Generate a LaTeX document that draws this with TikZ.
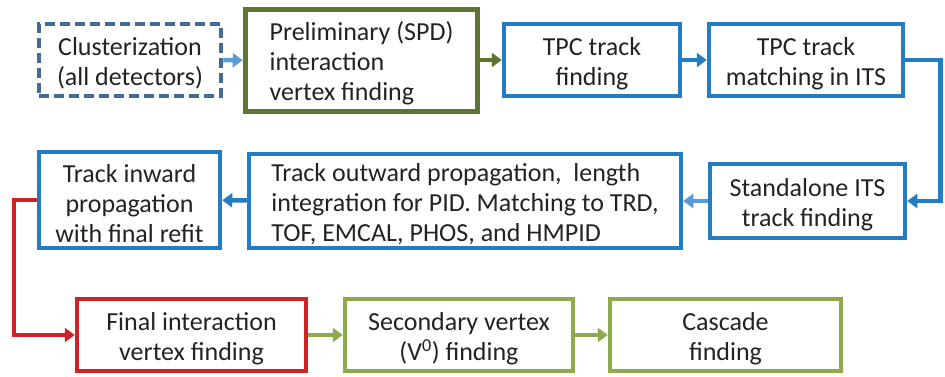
\documentclass[tikz,border=0pt]{standalone}
\usepackage{fontspec}
\setmainfont{Carlito}
\usetikzlibrary{arrows.meta}
\definecolor{dashblue}{RGB}{65,108,152}
\definecolor{lblue}{RGB}{91,155,213}
\definecolor{mblue}{RGB}{36,124,194}
\definecolor{olive}{RGB}{94,117,50}
\definecolor{lgreen}{RGB}{141,170,76}
\definecolor{myred}{RGB}{210,32,39}
\definecolor{txt}{RGB}{35,35,35}
\newcommand\tstrut{\rule{0pt}{25pt}}
\begin{document}
\begin{tikzpicture}[x=1pt,y=-1pt,
  box/.style={draw, line width=4.5pt, rectangle, inner sep=0pt, align=center,
    font=\fontsize{26}{30}\selectfont, text=txt},
  conn/.style={line width=4.5pt, -{Triangle[length=10pt,width=14pt]}}]
\useasboundingbox[fill=white] (0,0) rectangle (945,376);
\node[box, draw=dashblue, dash pattern=on 10pt off 5pt, minimum width=182pt, minimum height=72pt] (clus) at (130,60) {\tstrut Clusterization\\(all detectors)};
\node[box, draw=olive, line width=5.5pt, minimum width=232pt, minimum height=102pt, align=left] (prelim) at (361.5,60.5) {\tstrut Preliminary (SPD)\\interaction\\vertex finding};
\node[box, draw=mblue, minimum width=176pt, minimum height=72pt] (tpcf) at (592,60) {\tstrut TPC track\\finding};
\node[box, draw=mblue, minimum width=194pt, minimum height=72pt] (tpcm) at (806,60) {\tstrut TPC track\\matching in ITS};
\node[box, draw=mblue, minimum width=195pt, minimum height=74pt] (stand) at (807.5,201) {\tstrut Standalone ITS\\track finding};
\node[box, draw=mblue, minimum width=432pt, minimum height=94pt, align=left] (outw) at (465,201) {\tstrut Track outward propagation,\ \ length\\integration for PID. Matching to TRD,\\TOF, EMCAL, PHOS, and HMPID};
\node[box, draw=mblue, minimum width=181pt, minimum height=96pt] (inw) at (129.5,200) {\tstrut Track inward\\propagation\\with final refit};
\node[box, draw=myred, minimum width=229pt, minimum height=72pt] (final) at (191.5,335) {\tstrut Final interaction\\vertex finding};
\node[box, draw=lgreen, minimum width=228pt, minimum height=72pt] (sec) at (459,335) {\tstrut Secondary vertex\\(V\textsuperscript{0}) finding};
\node[box, draw=lgreen, minimum width=231pt, minimum height=72pt] (casc) at (725.5,335) {\tstrut Cascade\\finding};
\draw[conn, lblue] (clus) -- (prelim);
\draw[conn, olive] (prelim.east |- tpcf.west) -- (tpcf.west);
\draw[conn, mblue] (tpcf) -- (tpcm);
\draw[conn, mblue] (tpcm.east) -- ++(35,0) |- (stand.east);
\draw[conn, lblue] (stand) -- (outw);
\draw[conn, mblue] (outw) -- (inw);
\draw[conn, myred] (inw.west) -- ++(-23,0) |- (final.west);
\draw[conn, lgreen] (final) -- (sec);
\draw[conn, lgreen] (sec) -- (casc);
\end{tikzpicture}
\end{document}
